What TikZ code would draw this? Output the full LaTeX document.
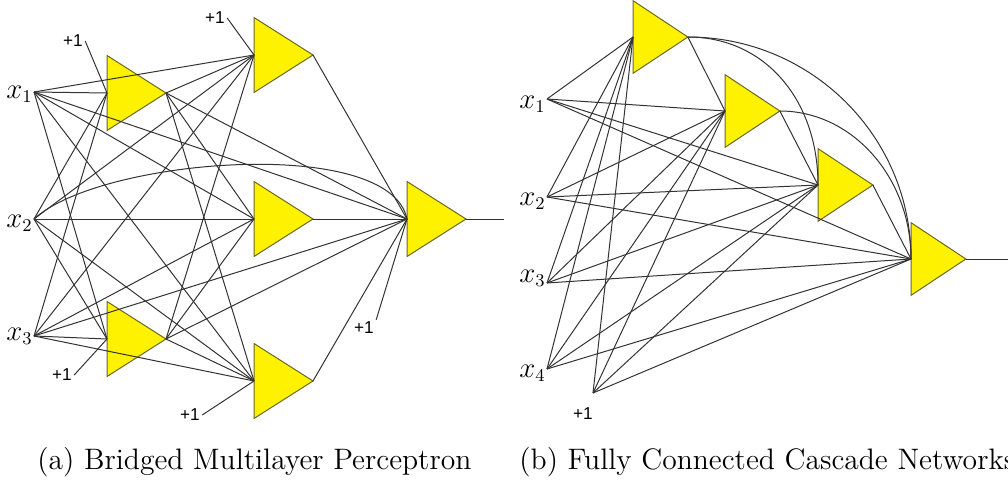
\documentclass[tikz,border=0pt]{standalone}
\usepackage{amsmath,amssymb}
\usepackage{xcolor}
\usepackage{fontspec}
\newfontfamily\biasfont{Liberation Sans}
\newcommand{\inp}[1]{$x_{#1}$}

\begin{document}
\begin{tikzpicture}[x=0.5pt,y=-0.5pt,
  link/.style={draw=black!80,line width=0.5pt},
  unit/.style={fill=yellow,draw=olive!70!black,line width=0.5pt},
  bias/.style={inner sep=1pt,font=\biasfont\fontsize{8.6}{9}\selectfont},
  invar/.style={inner sep=0pt,anchor=base west,font=\fontsize{13.5}{14}\selectfont},
  caption/.style={inner sep=0pt,anchor=base west,font=\fontsize{14.8}{17}\selectfont},
  neuron/.pic={\path[unit] (0,-37.5)--(59,0)--(0,37.5)--cycle;
    \coordinate (-in) at (0,0); \coordinate (-out) at (59,0);}]
\useasboundingbox (0,0) rectangle (1008,482);
% (a)
\pic (A) at (107,93) {neuron};
\pic (B) at (107,339) {neuron};
\pic (C) at (254,55) {neuron};
\pic (D) at (254,219) {neuron};
\pic (E) at (254,381) {neuron};
\pic (F) at (407,219) {neuron};
\coordinate (x1) at (34,92); \coordinate (x2) at (34,219); \coordinate (x3) at (34,336);
\coordinate (ya) at (504,219);
\node[invar] (lx1) at (6,98) {\inp1};
\node[invar] (lx2) at (6,227) {\inp2};
\node[invar] (lx3) at (6,340) {\inp3};
\foreach \s in {x1,x2,x3}{\foreach \t in {A,B,C,D,E}{\draw[link] (\s)--(\t-in);}}
\foreach \s in {A,B}{\foreach \t in {C,D,E,F}{\draw[link] (\s-out)--(\t-in);}}
\foreach \s in {C,D,E}{\draw[link] (\s-out)--(F-in);}
\draw[link] (x1)--(F-in); \draw[link] (x3)--(F-in);
\draw[link] (x2) .. controls (100,158) and (390,135) .. (F-in);
\draw[link] (F-out)--(ya);
\node[bias] (bA) at (73,41) {+1}; \draw[link] (bA.east)--(A-in);
\node[bias] (bC) at (215,18) {+1}; \draw[link] (bC.east)--(C-in);
\node[bias] (bB) at (62,375) {+1}; \draw[link] (bB.east)--(B-in);
\node[bias] (bE) at (190,415) {+1}; \draw[link] (bE.east)--(E-in);
\node[bias] (bF) at (364,328) {+1}; \draw[link] (bF.north east)--(F-in);
% (b)
\pic[xscale=0.93,yscale=0.97] (N1) at (633,37) {neuron};
\pic[xscale=0.93,yscale=0.97] (N2) at (725,111) {neuron};
\pic[xscale=0.93,yscale=0.97] (N3) at (818,185) {neuron};
\pic[xscale=0.93,yscale=0.97] (N4) at (911,259) {neuron};
\coordinate (u1) at (547,99); \coordinate (u2) at (547,197);
\coordinate (u3) at (547,283); \coordinate (u4) at (547,369);
\coordinate (ub) at (593,393); \coordinate (yb) at (1008,259);
\node[invar] (lu1) at (519,108) {\inp1};
\node[invar] (lu2) at (519,205) {\inp2};
\node[invar] (lu3) at (519,282) {\inp3};
\node[invar] (lu4) at (519,377) {\inp4};
\node[bias] (bN) at (583,414) {+1};
\foreach \s in {u1,u2,u3,u4,ub}{\foreach \t in {N1,N2,N3,N4}{\draw[link] (\s)--(\t-in);}}
\draw[link] (N1-out)--(N2-in); \draw[link] (N2-out)--(N3-in); \draw[link] (N3-out)--(N4-in);
\draw[link] (N1-out) .. controls (811,37) and (911,136) .. (N4-in);
\draw[link] (N1-out) .. controls (765,37) and (818,100) .. (N3-in);
\draw[link] (N2-out) .. controls (852,111) and (911,177) .. (N4-in);
\draw[link] (N4-out)--(yb);
\node[caption] (ca) at (37,469) {(a) Bridged Multilayer Perceptron};
\node[caption] (cb) at (519,469) {(b) Fully Connected Cascade Networks};
\end{tikzpicture}
\end{document}
